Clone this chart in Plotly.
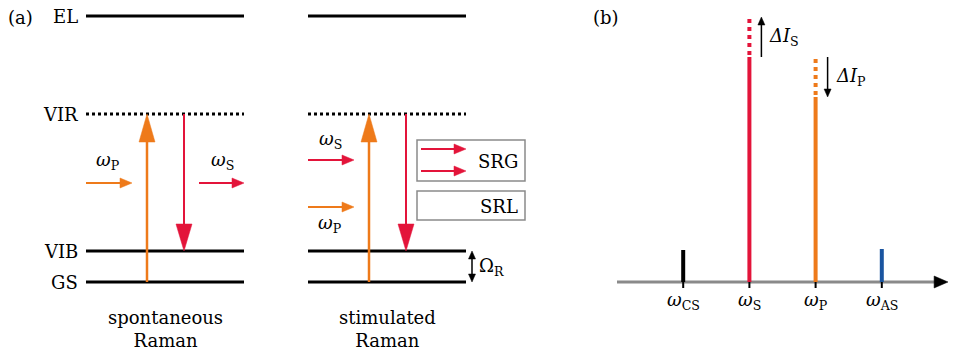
import plotly.graph_objects as go

# ---------------- data ----------------
# panel (a): energy levels (arbitrary energy units, up = higher)
level_names = ["EL", "VIR", "VIB", "GS"]
level_energy = [340, 242, 105, 74]
level_dotted = [False, True, False, False]
columns = ["spontaneous<br>Raman", "stimulated<br>Raman"]
column_span = [(86, 244), (308, 466)]

# panel (b): spectrum
freq_labels = ["<i>ω</i><sub>CS</sub>", "<i>ω</i><sub>S</sub>", "<i>ω</i><sub>P</sub>", "<i>ω</i><sub>AS</sub>"]
freq_pos = [1, 2, 3, 4]
base_intensity = [32, 225, 225, 33]
delta_intensity = [0, 40, -40, 0]

ORANGE = "#EE7A1A"
RED = "#E3143A"
BLUE = "#1A55A0"
BLACK = "#000000"
GREY = "#8a8a8a"
line_colors = [BLACK, RED, ORANGE, BLUE]
FONT = "DejaVu Serif"
FS = 18

PXU2 = 331 / 5.0  # px per x2 unit

fig = go.Figure()


def seg(x0, y0, x1, y1, color, width, dash="solid", xa="x", ya="y"):
    fig.add_trace(go.Scatter(x=[x0, x1], y=[y0, y1], mode="lines", xaxis=xa, yaxis=ya,
                             line=dict(color=color, width=width, dash=dash),
                             hoverinfo="skip", showlegend=False))


def tri(pts, color, xa="x", ya="y"):
    xs = [p[0] for p in pts] + [pts[0][0]]
    ys = [p[1] for p in pts] + [pts[0][1]]
    fig.add_trace(go.Scatter(x=xs, y=ys, mode="lines", fill="toself", fillcolor=color,
                             xaxis=xa, yaxis=ya, line=dict(color=color, width=0.5),
                             hoverinfo="skip", showlegend=False))


def varrow(x, y0, y1, color, width, hl, hw, xa="x", ya="y", xs=1.0):
    d = 1 if y1 > y0 else -1
    seg(x, y0, x, y1 - d * hl * 0.6, color, width, xa=xa, ya=ya)
    tri([(x - hw / xs, y1 - d * hl), (x + hw / xs, y1 - d * hl), (x, y1)], color, xa, ya)


def harrow(x0, x1, y, color, width=2, hl=12, hw=5):
    seg(x0, y, x1 - hl * 0.6, y, color, width)
    tri([(x1 - hl, y - hw), (x1 - hl, y + hw), (x1, y)], color)


def text(x, y, t, xanchor="center", xref="x", yref="y"):
    fig.add_annotation(x=x, y=y, xref=xref, yref=yref, text=t, xanchor=xanchor, yanchor="middle",
                       showarrow=False, font=dict(family=FONT, size=FS, color=BLACK))


E = dict(zip(level_names, level_energy))

# ---- panel (a) levels ----
for (x0, x1) in column_span:
    for name, en, dotted in zip(level_names, level_energy, level_dotted):
        seg(x0, en, x1, en, BLACK, 3, dash="dot" if dotted else "solid")

for name, en in zip(level_names, level_energy):
    text(80, en, name, xanchor="right")

for (x0, x1), label in zip(column_span, columns):
    xp = x0 + 61
    xs_ = x0 + 98
    varrow(xp, E["GS"], E["VIR"], ORANGE, 2.5, 28, 8)
    varrow(xs_, E["VIR"], E["VIB"], RED, 2, 27, 8)
    text((x0 + x1) / 2, 27, label)

# spontaneous in/out beams
x0, x1 = column_span[0]
harrow(x0, x0 + 46, 173, ORANGE)
text(x0 + 22, 195, "<i>ω</i><sub>P</sub>")
harrow(x1 - 45, x1, 173, RED)
text(x1 - 22, 195, "<i>ω</i><sub>S</sub>")

# stimulated beams
x0, x1 = column_span[1]
harrow(x0, x0 + 46, 196, RED)
text(x0 + 22, 216, "<i>ω</i><sub>S</sub>")
harrow(x0, x0 + 46, 149, ORANGE)
text(x0 + 22, 132, "<i>ω</i><sub>P</sub>")

# SRG / SRL boxes
fig.add_shape(type="rect", xref="x", yref="y", x0=417, x1=525, y0=175, y1=216,
              line=dict(color=GREY, width=1.5))
fig.add_shape(type="rect", xref="x", yref="y", x0=417, x1=525, y0=136, y1=165,
              line=dict(color=GREY, width=1.5))
harrow(421, 466, 207, RED)
harrow(421, 466, 185, RED)
text(520, 195, "SRG", xanchor="right")
text(520, 150, "SRL", xanchor="right")

# Omega_R double arrow
xo = column_span[1][1] + 6
seg(xo, E["GS"] + 6, xo, E["VIB"] - 6, BLACK, 1.5)
tri([(xo - 3.5, E["VIB"] - 8), (xo + 3.5, E["VIB"] - 8), (xo, E["VIB"])], BLACK)
tri([(xo - 3.5, E["GS"] + 8), (xo + 3.5, E["GS"] + 8), (xo, E["GS"])], BLACK)
text(xo + 5, (E["VIB"] + E["GS"]) / 2, "Ω<sub>R</sub>", xanchor="left")

text(6, 339, "(a)", xanchor="left")
text(591, 339, "(b)", xanchor="left")

# ---- panel (b) spectrum ----
seg(0, 0, 4.8, 0, GREY, 3, xa="x2", ya="y2")
tri([(4.79, -6), (4.79, 6), (5.0, 0)], BLACK, "x2", "y2")
text(5.16, -10, "<i>ω</i>", xref="x2", yref="y2")

for lab, xp, base, dl, col in zip(freq_labels, freq_pos, base_intensity, delta_intensity, line_colors):
    seg(xp, -6, xp, 0, BLACK, 2, xa="x2", ya="y2")
    final = base + dl
    seg(xp, 0, xp, min(base, final), col, 4, xa="x2", ya="y2")
    if dl != 0:
        seg(xp, min(base, final) + 2, xp, max(base, final), col, 4, dash="dot", xa="x2", ya="y2")
        ax = xp + 12 / PXU2
        varrow(ax, base, final, BLACK, 1.5, 8, 3.5, xa="x2", ya="y2", xs=PXU2)
        sub = "S" if dl > 0 else "P"
        text(xp + 18 / PXU2, (base + final) / 2, "<i>ΔI</i><sub>" + sub + "</sub>",
             xanchor="left", xref="x2", yref="y2")
    text(xp, -19, lab, xref="x2", yref="y2")

fig.update_layout(
    width=963, height=356, margin=dict(l=0, r=0, t=0, b=0),
    paper_bgcolor="white", plot_bgcolor="white", showlegend=False,
    font=dict(family=FONT, size=FS, color=BLACK),
    xaxis=dict(domain=[0, 1], range=[0, 963], visible=False, fixedrange=True),
    yaxis=dict(domain=[0, 1], range=[0, 356], visible=False, fixedrange=True),
    xaxis2=dict(domain=[617 / 963, 948 / 963], range=[0, 5], visible=False, anchor="y2"),
    yaxis2=dict(domain=[0, 1], range=[-74, 282], visible=False, anchor="x2", overlaying="y"),
)

fig.write_html("out.html")
